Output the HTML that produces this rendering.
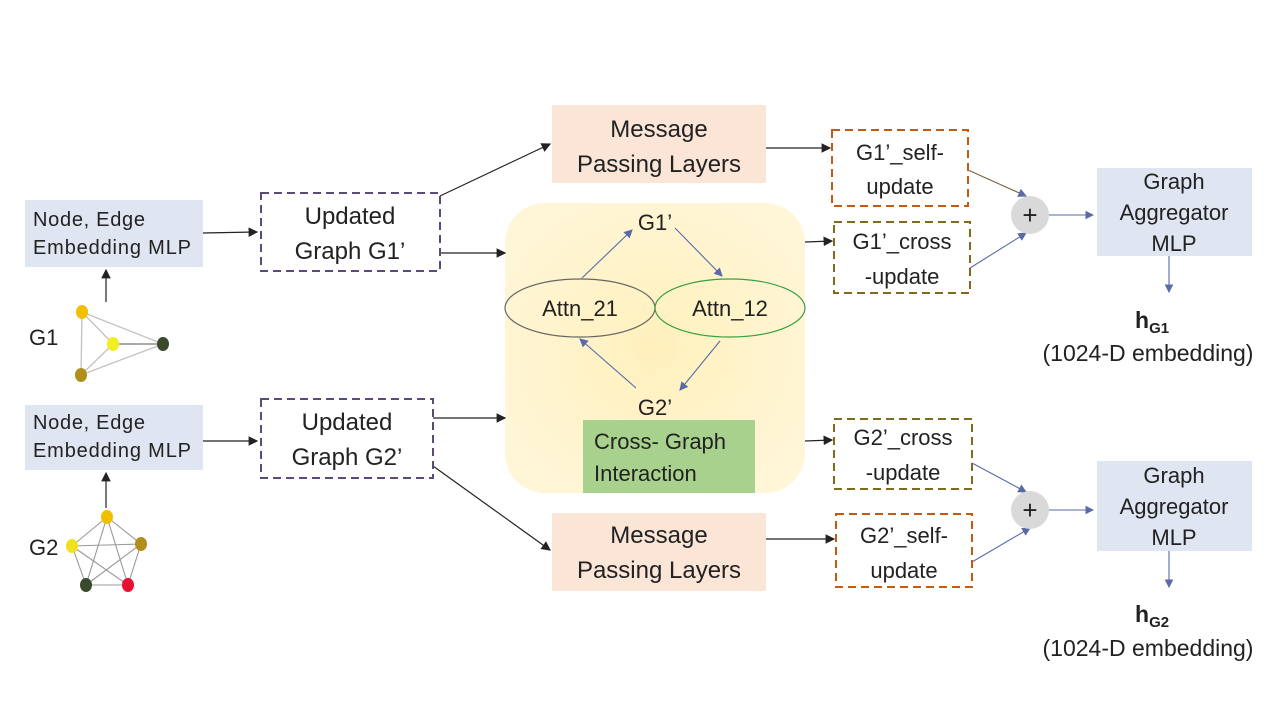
<!DOCTYPE html>
<html><head><meta charset="utf-8"><style>body{margin:0;background:#fff}svg{display:block}text{font-family:"Liberation Sans",sans-serif;fill:#222}</style></head><body>
<svg width="1280" height="720" viewBox="0 0 1280 720" xmlns="http://www.w3.org/2000/svg">
<defs>
<marker id="a" markerWidth="8" markerHeight="8" refX="7" refY="4" orient="auto"><path d="M0,0 L8,4 L0,8z" fill="#222"/></marker>
<marker id="b" markerWidth="8" markerHeight="8" refX="7" refY="4" orient="auto"><path d="M0,0 L8,4 L0,8z" fill="#5a6aa8"/></marker>
<radialGradient id="y" cx="50%" cy="50%" r="60%"><stop offset="0" stop-color="#fff0bc"/><stop offset="1" stop-color="#fff6d8"/></radialGradient>
</defs>
<rect x="505" y="203" width="300" height="290" rx="40" fill="url(#y)"/>
<rect x="25" y="200" width="178" height="67" fill="#dfe5f1"/>
<text x="33" y="226" font-size="20" textLength="112">Node, Edge</text><text x="33" y="254" font-size="20" textLength="158">Embedding MLP</text>
<rect x="25" y="405" width="178" height="65" fill="#dfe5f1"/>
<text x="33" y="429" font-size="20" textLength="112">Node, Edge</text><text x="33" y="457" font-size="20" textLength="158">Embedding MLP</text>
<g stroke="#222" stroke-width="1.2" fill="none">
<line x1="106" y1="302" x2="106" y2="270" marker-end="url(#a)"/>
<line x1="106" y1="508" x2="106" y2="473" marker-end="url(#a)"/>
<line x1="203" y1="233" x2="257" y2="232" marker-end="url(#a)"/>
<line x1="203" y1="441" x2="257" y2="441" marker-end="url(#a)"/>
<line x1="440" y1="196" x2="550" y2="144" marker-end="url(#a)"/>
<line x1="440" y1="253" x2="505" y2="253" marker-end="url(#a)"/>
<line x1="433" y1="418" x2="505" y2="418" marker-end="url(#a)"/>
<line x1="433" y1="466" x2="550" y2="550" marker-end="url(#a)"/>
<line x1="766" y1="148" x2="830" y2="148" marker-end="url(#a)"/>
<line x1="805" y1="242" x2="832" y2="241" marker-end="url(#a)"/>
<line x1="805" y1="441" x2="832" y2="440" marker-end="url(#a)"/>
<line x1="766" y1="539" x2="834" y2="539" marker-end="url(#a)"/>
</g>
<g stroke="#c8c0c0" stroke-width="1.3">
<line x1="82" y1="312" x2="163" y2="344"/><line x1="82" y1="312" x2="81" y2="375"/><line x1="82" y1="312" x2="113" y2="344"/>
<line x1="113" y1="344" x2="163" y2="344" stroke="#777"/><line x1="113" y1="344" x2="81" y2="375"/><line x1="81" y1="375" x2="163" y2="344"/>
</g>
<ellipse cx="82" cy="312" rx="6" ry="7" fill="#f0c000"/><ellipse cx="113" cy="344" rx="6" ry="7" fill="#f0f020"/><ellipse cx="163" cy="344" rx="6" ry="7" fill="#3a4a2a"/><ellipse cx="81" cy="375" rx="6" ry="7" fill="#b0901a"/>
<text x="29" y="345" font-size="22">G1</text>
<g stroke="#999" stroke-width="1.1">
<line x1="107" y1="517" x2="72" y2="546"/><line x1="107" y1="517" x2="141" y2="544"/><line x1="107" y1="517" x2="86" y2="585"/><line x1="107" y1="517" x2="128" y2="585"/>
<line x1="72" y1="546" x2="141" y2="544"/><line x1="72" y1="546" x2="86" y2="585"/><line x1="72" y1="546" x2="128" y2="585"/>
<line x1="141" y1="544" x2="86" y2="585"/><line x1="141" y1="544" x2="128" y2="585"/><line x1="86" y1="585" x2="128" y2="585"/>
</g>
<ellipse cx="107" cy="517" rx="6" ry="7" fill="#f0c000"/><ellipse cx="72" cy="546" rx="6" ry="7" fill="#f0e020"/><ellipse cx="141" cy="544" rx="6" ry="7" fill="#b0901a"/><ellipse cx="86" cy="585" rx="6" ry="7" fill="#3a4a2a"/><ellipse cx="128" cy="585" rx="6" ry="7" fill="#e81030"/>
<text x="29" y="555" font-size="22">G2</text>
<rect x="261" y="193" width="179" height="78" fill="none" stroke="#5b4a7a" stroke-width="2" stroke-dasharray="8,5"/>
<text x="350" y="224" font-size="24" text-anchor="middle">Updated</text><text x="350" y="259" font-size="24" text-anchor="middle">Graph G1’</text>
<rect x="261" y="399" width="172" height="79" fill="none" stroke="#5b4a7a" stroke-width="2" stroke-dasharray="8,5"/>
<text x="347" y="430" font-size="24" text-anchor="middle">Updated</text><text x="347" y="465" font-size="24" text-anchor="middle">Graph G2’</text>
<rect x="552" y="105" width="214" height="78" fill="#fbe5d6"/>
<text x="659" y="137" font-size="24" text-anchor="middle">Message</text><text x="659" y="172" font-size="24" text-anchor="middle">Passing Layers</text>
<rect x="552" y="513" width="214" height="78" fill="#fbe5d6"/>
<text x="659" y="543" font-size="24" text-anchor="middle">Message</text><text x="659" y="578" font-size="24" text-anchor="middle">Passing Layers</text>
<text x="655" y="230" font-size="22" text-anchor="middle">G1’</text>
<text x="655" y="415" font-size="22" text-anchor="middle">G2’</text>
<ellipse cx="580" cy="308" rx="75" ry="29" fill="none" stroke="#666" stroke-width="1.2"/>
<ellipse cx="730" cy="308" rx="75" ry="29" fill="none" stroke="#3aa040" stroke-width="1.2"/>
<text x="580" y="316" font-size="22" text-anchor="middle">Attn_21</text>
<text x="730" y="316" font-size="22" text-anchor="middle">Attn_12</text>
<g stroke="#5a6aa8" stroke-width="1.1">
<line x1="582" y1="278" x2="632" y2="230" marker-end="url(#b)"/>
<line x1="675" y1="228" x2="722" y2="276" marker-end="url(#b)"/>
<line x1="720" y1="341" x2="680" y2="390" marker-end="url(#b)"/>
<line x1="636" y1="388" x2="580" y2="339" marker-end="url(#b)"/>
<line x1="968" y1="170" x2="1026" y2="196" marker-end="url(#b)" stroke="#776644"/>
<line x1="970" y1="268" x2="1026" y2="233" marker-end="url(#b)"/>
<line x1="1048" y1="215" x2="1093" y2="215" marker-end="url(#b)"/>
<line x1="972" y1="463" x2="1026" y2="492" marker-end="url(#b)"/>
<line x1="972" y1="562" x2="1030" y2="528" marker-end="url(#b)"/>
<line x1="1048" y1="510" x2="1093" y2="510" marker-end="url(#b)"/>
<line x1="1169" y1="256" x2="1169" y2="292" marker-end="url(#b)"/>
<line x1="1169" y1="551" x2="1169" y2="587" marker-end="url(#b)"/>
</g>
<rect x="583" y="420" width="172" height="73" fill="#a9d18e"/>
<text x="594" y="449" font-size="22">Cross- Graph</text><text x="594" y="481" font-size="22">Interaction</text>
<rect x="832" y="130" width="136" height="76" fill="none" stroke="#c55a11" stroke-width="2" stroke-dasharray="8,5"/>
<text x="900" y="160" font-size="22" text-anchor="middle">G1’_self-</text><text x="900" y="194" font-size="22" text-anchor="middle">update</text>
<rect x="834" y="222" width="136" height="71" fill="none" stroke="#7f6a1f" stroke-width="2" stroke-dasharray="8,5"/>
<text x="902" y="249" font-size="22" text-anchor="middle">G1’_cross</text><text x="902" y="284" font-size="22" text-anchor="middle">-update</text>
<rect x="834" y="419" width="138" height="70" fill="none" stroke="#7f6a1f" stroke-width="2" stroke-dasharray="8,5"/>
<text x="903" y="445" font-size="22" text-anchor="middle">G2’_cross</text><text x="903" y="480" font-size="22" text-anchor="middle">-update</text>
<rect x="836" y="514" width="136" height="73" fill="none" stroke="#c55a11" stroke-width="2" stroke-dasharray="8,5"/>
<text x="904" y="543" font-size="22" text-anchor="middle">G2’_self-</text><text x="904" y="578" font-size="22" text-anchor="middle">update</text>
<circle cx="1030" cy="215" r="19" fill="#d9d9d9"/><text x="1030" y="224" font-size="26" text-anchor="middle">+</text>
<circle cx="1030" cy="510" r="19" fill="#d9d9d9"/><text x="1030" y="519" font-size="26" text-anchor="middle">+</text>
<rect x="1097" y="168" width="155" height="88" fill="#dfe5f1"/>
<text x="1174" y="189" font-size="22" text-anchor="middle">Graph</text><text x="1174" y="220" font-size="22" text-anchor="middle">Aggregator</text><text x="1174" y="251" font-size="22" text-anchor="middle">MLP</text>
<rect x="1097" y="461" width="155" height="90" fill="#dfe5f1"/>
<text x="1174" y="483" font-size="22" text-anchor="middle">Graph</text><text x="1174" y="514" font-size="22" text-anchor="middle">Aggregator</text><text x="1174" y="545" font-size="22" text-anchor="middle">MLP</text>
<text x="1135" y="328" font-size="23" font-weight="bold">h<tspan font-size="15" dy="5">G1</tspan></text>
<text x="1148" y="361" font-size="23" text-anchor="middle">(1024-D embedding)</text>
<text x="1135" y="622" font-size="23" font-weight="bold">h<tspan font-size="15" dy="5">G2</tspan></text>
<text x="1148" y="656" font-size="23" text-anchor="middle">(1024-D embedding)</text>
</svg>
</body></html>
